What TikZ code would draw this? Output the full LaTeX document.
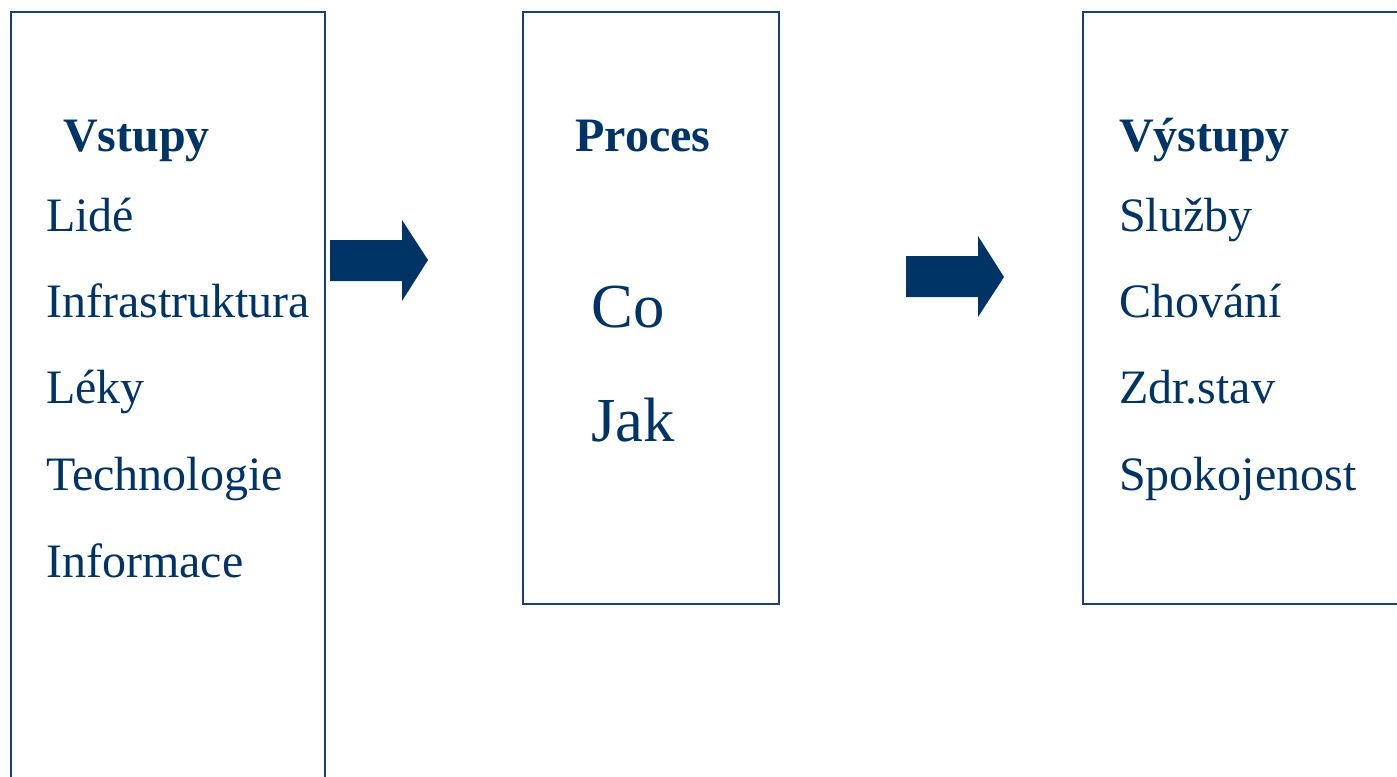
\documentclass[tikz,border=0pt]{standalone}
\usepackage{fontspec}
\setmainfont{Liberation Serif}
\definecolor{navy}{RGB}{0,51,102}
\definecolor{boxline}{RGB}{25,65,115}
\tikzset{
  frame/.style={draw=boxline, line width=1.6pt},
  blockarrow/.style={fill=navy, draw=none},
  item/.style={anchor=base west, inner sep=0pt, text=navy, font=\fontsize{36}{40}\selectfont},
  head/.style={anchor=base west, inner sep=0pt, text=navy, font=\fontsize{36}{40}\selectfont\bfseries},
  big/.style={anchor=base west, inner sep=0pt, text=navy, font=\fontsize{47}{52}\selectfont}
}
\begin{document}
\begin{tikzpicture}[x=0.75pt,y=-0.75pt]
\useasboundingbox (0,0) rectangle (1397,776);
\clip (0,0) rectangle (1397,776);
% boxes
\draw[frame] (11,12) rectangle (325,800);
\draw[frame] (523,12) rectangle (779,604);
\draw[frame] (1083,12) rectangle (1420,604);
% arrows
\fill[blockarrow] (330,240) -- (402,240) -- (402,220) -- (428,260) -- (402,301) -- (402,281) -- (330,281) -- cycle;
\fill[blockarrow] (906,256) -- (978,256) -- (978,236) -- (1004,277) -- (978,317) -- (978,297) -- (906,297) -- cycle;
% left texts
\node[head] (vstupy) at (63,151) {Vstupy};
\node[item] (lide) at (46,231) {Lidé};
\node[item] (infra) at (46,317) {Infrastruktura};
\node[item] (leky) at (46,403) {Léky};
\node[item] (tech) at (46,490) {Technologie};
\node[item] (info) at (46,577) {Informace};
% middle texts
\node[head] (proces) at (575,151) {Proces};
\node[big] (co) at (591,327) {Co};
\node[big] (jak) at (591,441) {Jak};
% right texts
\node[head] (vystupy) at (1119,151) {Výstupy};
\node[item] (sluzby) at (1119,231) {Služby};
\node[item] (chovani) at (1119,317) {Chování};
\node[item] (zdr) at (1119,403) {Zdr.stav};
\node[item] (spok) at (1119,490) {Spokojenost};
\end{tikzpicture}
\end{document}
